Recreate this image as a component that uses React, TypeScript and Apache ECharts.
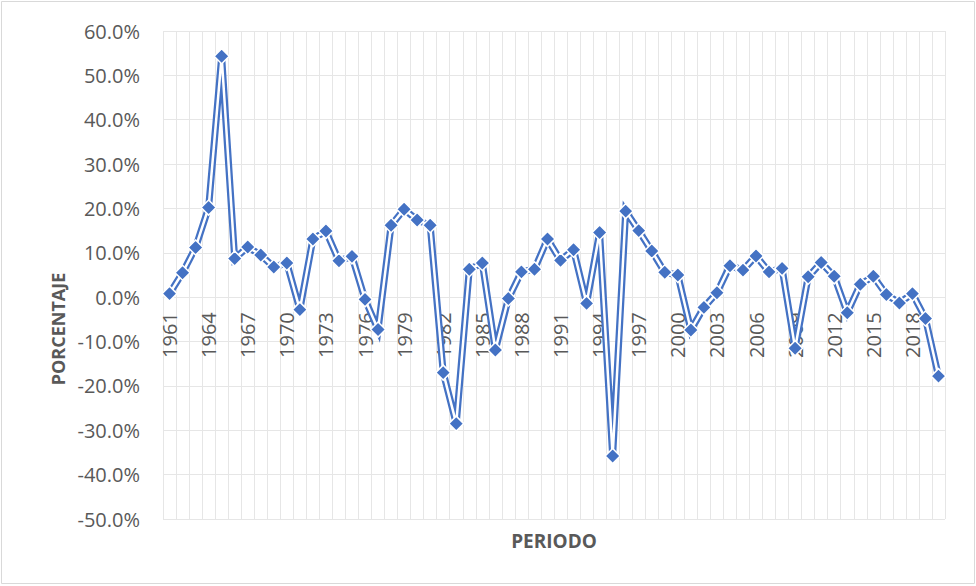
import React, { useEffect, useRef } from "react";
import * as echarts from "echarts";

const years = [
  "1961", "1962", "1963", "1964", "1965", "1966", "1967", "1968", "1969", "1970",
  "1971", "1972", "1973", "1974", "1975", "1976", "1977", "1978", "1979", "1980",
  "1981", "1982", "1983", "1984", "1985", "1986", "1987", "1988", "1989", "1990",
  "1991", "1992", "1993", "1994", "1995", "1996", "1997", "1998", "1999", "2000",
  "2001", "2002", "2003", "2004", "2005", "2006", "2007", "2008", "2009", "2010",
  "2011", "2012", "2013", "2014", "2015", "2016", "2017", "2018", "2019", "2020",
];

const porcentaje = [
  0.8, 5.5, 11.2, 20.2, 54.3, 8.7, 11.3, 9.5, 6.8, 7.7,
  -2.8, 13.1, 14.9, 8.2, 9.2, -0.5, -7.3, 16.2, 19.8, 17.4,
  16.2, -17.0, -28.5, 6.3, 7.7, -11.9, -0.3, 5.7, 6.3, 13.1,
  8.3, 10.7, -1.4, 14.6, -35.8, 19.4, 15.0, 10.4, 5.6, 5.0,
  -7.4, -2.3, 1.0, 7.1, 6.1, 9.3, 5.7, 6.5, -11.5, 4.6,
  7.8, 4.7, -3.5, 2.9, 4.7, 0.6, -1.3, 0.8, -4.8, -17.8,
];

const yMin = -50;
const yMax = 60;
const yStep = 10;

const BLUE = "#4472C4";
const TEXT = "#595959";
const GRID = "#e6e6e6";
const FONT = "'Open Sans', sans-serif";

const GRID_TOP = 31;
const GRID_BOTTOM = 67;
const CHART_H = 586;

export default function App() {
  const ref = useRef<HTMLDivElement>(null);

  useEffect(() => {
    document.body.style.margin = "0";
    const plotH = CHART_H - GRID_TOP - GRID_BOTTOM;
    // distance from plot bottom up to the zero line
    const zeroOffset = (-yMin / (yMax - yMin)) * plotH;
    const chart = echarts.init(ref.current!, null, { renderer: "svg" });
    chart.setOption({
      animation: false,
      backgroundColor: "#ffffff",
      grid: { left: 163, right: 31, top: GRID_TOP, bottom: GRID_BOTTOM, containLabel: false },
      xAxis: [
        {
          type: "category",
          data: years,
          boundaryGap: true,
          axisLine: { show: false },
          axisTick: { show: false, interval: 0 },
          splitLine: { show: true, interval: 0, lineStyle: { color: GRID, width: 1 } },
          axisLabel: { show: false },
        },
        {
          type: "category",
          data: years,
          position: "bottom",
          offset: -zeroOffset,
          boundaryGap: true,
          axisLine: { show: true, onZero: false, lineStyle: { color: GRID, width: 1 } },
          axisTick: { show: false },
          splitLine: { show: false },
          axisLabel: {
            interval: 2,
            rotate: 90,
            margin: 15,
            color: TEXT,
            fontFamily: FONT,
            fontSize: 20,
          },
        },
      ],
      yAxis: {
        type: "value",
        min: yMin,
        max: yMax,
        interval: yStep,
        axisLine: { show: false },
        axisTick: { show: false },
        splitLine: { show: true, lineStyle: { color: GRID, width: 1 } },
        axisLabel: {
          margin: 23,
          color: TEXT,
          fontFamily: FONT,
          fontSize: 20,
          formatter: (v: number) => v.toFixed(1) + "%",
        },
      },
      series: [
        {
          type: "line",
          data: porcentaje,
          symbol: "none",
          silent: true,
          lineStyle: { color: BLUE, width: 7, join: "miter", miterLimit: 10 },
          z: 2,
        },
        {
          type: "line",
          data: porcentaje,
          symbol: "diamond",
          symbolSize: 15,
          showAllSymbol: true,
          lineStyle: { color: "#ffffff", width: 2.5, join: "miter", miterLimit: 10 },
          itemStyle: { color: BLUE, borderColor: "#ffffff", borderWidth: 1.5 },
          z: 3,
        },
      ],
      graphic: [
        {
          type: "rect",
          shape: { x: 1.5, y: 1.5, width: 973, height: 582 },
          style: { fill: "none", stroke: "#d9d9d9", lineWidth: 1 },
          silent: true,
        },
        {
          type: "text",
          x: 58,
          y: 329,
          rotation: Math.PI / 2,
          style: {
            text: "PORCENTAJE",
            fill: TEXT,
            font: `bold 18px ${FONT}`,
            textAlign: "center",
            textVerticalAlign: "middle",
          },
        },
        {
          type: "text",
          x: 554,
          y: 541,
          style: {
            text: "PERIODO",
            fill: TEXT,
            font: `bold 19px ${FONT}`,
            textAlign: "center",
            textVerticalAlign: "middle",
          },
        },
      ],
    });
    return () => chart.dispose();
  }, []);

  return <div ref={ref} style={{ width: 976, height: 586 }} />;
}
